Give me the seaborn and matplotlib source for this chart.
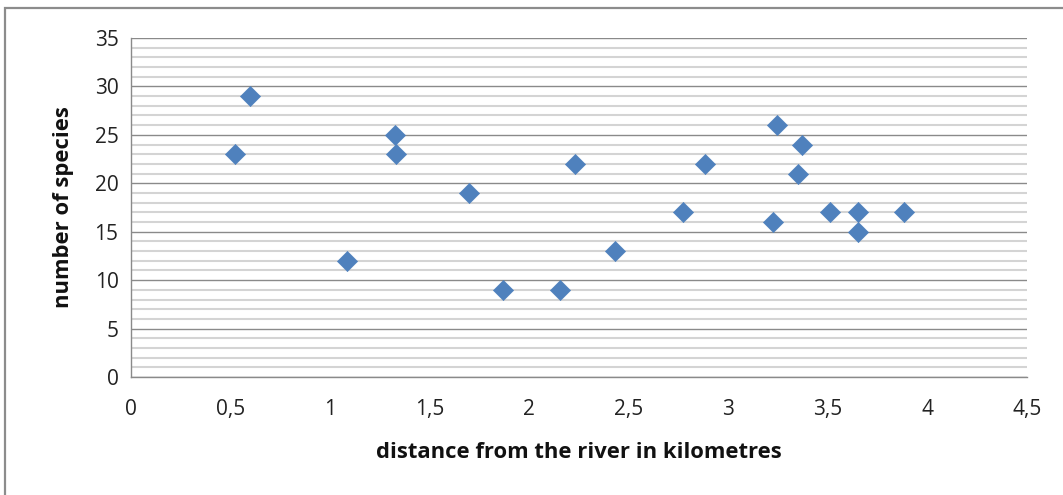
import matplotlib
matplotlib.use("Agg")
import matplotlib.pyplot as plt
import seaborn as sns
import pandas as pd
from matplotlib.ticker import MultipleLocator, FuncFormatter
from matplotlib.patches import Rectangle

# Survey sites: distance from the river (km) and number of species found
distance_km = [0.52, 0.60, 1.085, 1.325, 1.33, 1.70, 1.87, 2.155, 2.23, 2.43,
               2.77, 2.885, 3.225, 3.245, 3.37, 3.35, 3.51, 3.65, 3.65, 3.88]
species = [23, 29, 12, 25, 23, 19, 9, 9, 22, 13,
           17, 22, 16, 26, 24, 21, 17, 17, 15, 17]

df = pd.DataFrame({"distance": distance_km, "species": species})

sns.set_theme(style="white")
plt.rcParams["font.family"] = ["Open Sans", "DejaVu Sans"]

fig = plt.figure(figsize=(10.63, 4.95), dpi=100)
ax = fig.add_axes([131 / 1063, 1 - 377 / 495, (1027 - 131) / 1063, (377 - 38) / 495])

# Outer chart frame
fig.patches.append(Rectangle((5 / 1063, -0.05), 1.2, 1 - 8 / 495 + 0.05,
                             transform=fig.transFigure, fill=False,
                             edgecolor="#8c8c8c", linewidth=1.6, zorder=0))

sns.scatterplot(data=df, x="distance", y="species", ax=ax, marker="D",
                s=105, color="#4F81BD", edgecolor="#4F81BD", linewidth=0.5,
                zorder=5, legend=False)

ax.set_xlim(0, 4.5)
ax.set_ylim(0, 35)
ax.xaxis.set_major_locator(MultipleLocator(0.5))
ax.yaxis.set_major_locator(MultipleLocator(5))
ax.yaxis.set_minor_locator(MultipleLocator(1))

def comma_fmt(v, _):
    s = f"{v:g}"
    return s.replace(".", ",")

ax.xaxis.set_major_formatter(FuncFormatter(comma_fmt))

ax.grid(False)
ax.yaxis.grid(True, which="minor", color="#d4d4d4", linewidth=1.5, zorder=0)
ax.yaxis.grid(True, which="major", color="#8a8a8a", linewidth=1.0, zorder=1)
ax.set_axisbelow(True)

for side in ["top", "right"]:
    ax.spines[side].set_visible(False)
for side in ["left", "bottom"]:
    ax.spines[side].set_color("#8a8a8a")
    ax.spines[side].set_linewidth(1.0)

ax.tick_params(axis="both", which="major", direction="out", length=7,
               width=1.0, color="#8a8a8a", labelsize=15, labelcolor="#222222")
ax.tick_params(axis="y", which="minor", length=0)
ax.tick_params(axis="x", pad=9)
ax.tick_params(axis="y", pad=2)

ax.set_xlabel("distance from the river in kilometres", fontsize=15.8,
              fontweight="bold", color="#111111", labelpad=16)
ax.set_ylabel("number of species", fontsize=15.8, fontweight="bold",
              color="#111111", labelpad=15)

fig.savefig("out.png", dpi=100)
